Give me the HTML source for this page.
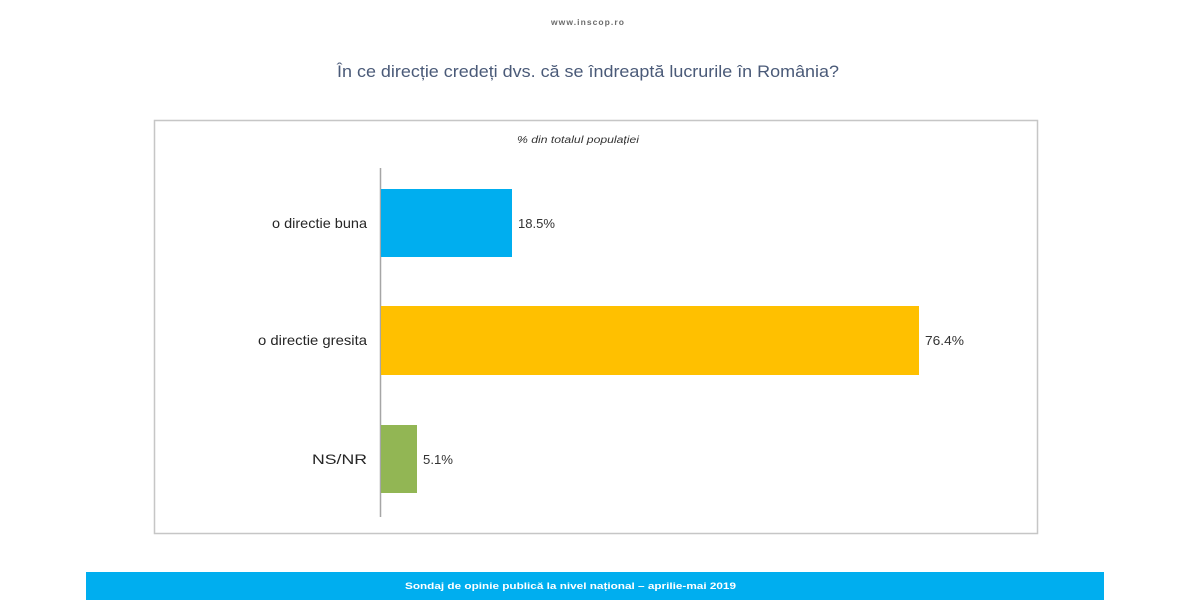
<!DOCTYPE html>
<html>
<head>
<meta charset="utf-8">
<style>
  html, body { margin:0; padding:0; background:#ffffff; }
  body { width:1200px; height:600px; overflow:hidden; }
  svg { display:block; }
</style>
</head>
<body>
<svg width="1200" height="600" viewBox="0 0 1200 600" xmlns="http://www.w3.org/2000/svg">
  <rect x="0" y="0" width="1200" height="600" fill="#ffffff"/>

  <!-- header url -->
  <text x="588" y="25" text-anchor="middle" font-family="Liberation Sans, sans-serif" font-size="8" font-weight="bold" fill="#6b6b6b" letter-spacing="1" textLength="74" lengthAdjust="spacingAndGlyphs">www.inscop.ro</text>

  <!-- title -->
  <text x="337" y="77" font-family="Liberation Sans, sans-serif" font-size="17" fill="#4a5a78" textLength="502" lengthAdjust="spacingAndGlyphs">În ce direcție credeți dvs. că se îndreaptă lucrurile în România?</text>

  <!-- chart box -->
  <rect x="154.5" y="120.5" width="883" height="413" fill="#ffffff" stroke="#c6c6c6" stroke-width="1.5"/>

  <!-- subtitle -->
  <text x="517" y="143" font-family="Liberation Sans, sans-serif" font-size="10" font-style="italic" fill="#333333" textLength="122" lengthAdjust="spacingAndGlyphs">% din totalul populației</text>

  <!-- axis line -->
  <line x1="380.5" y1="168" x2="380.5" y2="517" stroke="#a6a6a6" stroke-width="1.5"/>

  <!-- bars -->
  <rect x="381" y="189" width="131" height="68" fill="#00aeef"/>
  <rect x="381" y="306" width="538" height="69" fill="#ffc000"/>
  <rect x="381" y="425" width="36" height="68" fill="#92b654"/>

  <!-- category labels -->
  <g font-family="Liberation Sans, sans-serif" font-size="14" fill="#262626">
    <text x="272" y="228" textLength="95" lengthAdjust="spacingAndGlyphs">o directie buna</text>
    <text x="258" y="345" textLength="109" lengthAdjust="spacingAndGlyphs">o directie gresita</text>
    <text x="312" y="464" textLength="55" lengthAdjust="spacingAndGlyphs">NS/NR</text>
  </g>

  <!-- value labels -->
  <g font-family="Liberation Sans, sans-serif" font-size="13" fill="#333333">
    <text x="518" y="228" textLength="37" lengthAdjust="spacingAndGlyphs">18.5%</text>
    <text x="925" y="345" textLength="39" lengthAdjust="spacingAndGlyphs">76.4%</text>
    <text x="423" y="464" textLength="30" lengthAdjust="spacingAndGlyphs">5.1%</text>
  </g>

  <!-- footer bar -->
  <rect x="86" y="572" width="1018" height="28" fill="#00aeef"/>
  <text x="405" y="589" font-family="Liberation Sans, sans-serif" font-size="9.5" font-weight="bold" fill="#ffffff" textLength="331" lengthAdjust="spacingAndGlyphs">Sondaj de opinie publică la nivel național – aprilie-mai 2019</text>
</svg>
</body>
</html>
